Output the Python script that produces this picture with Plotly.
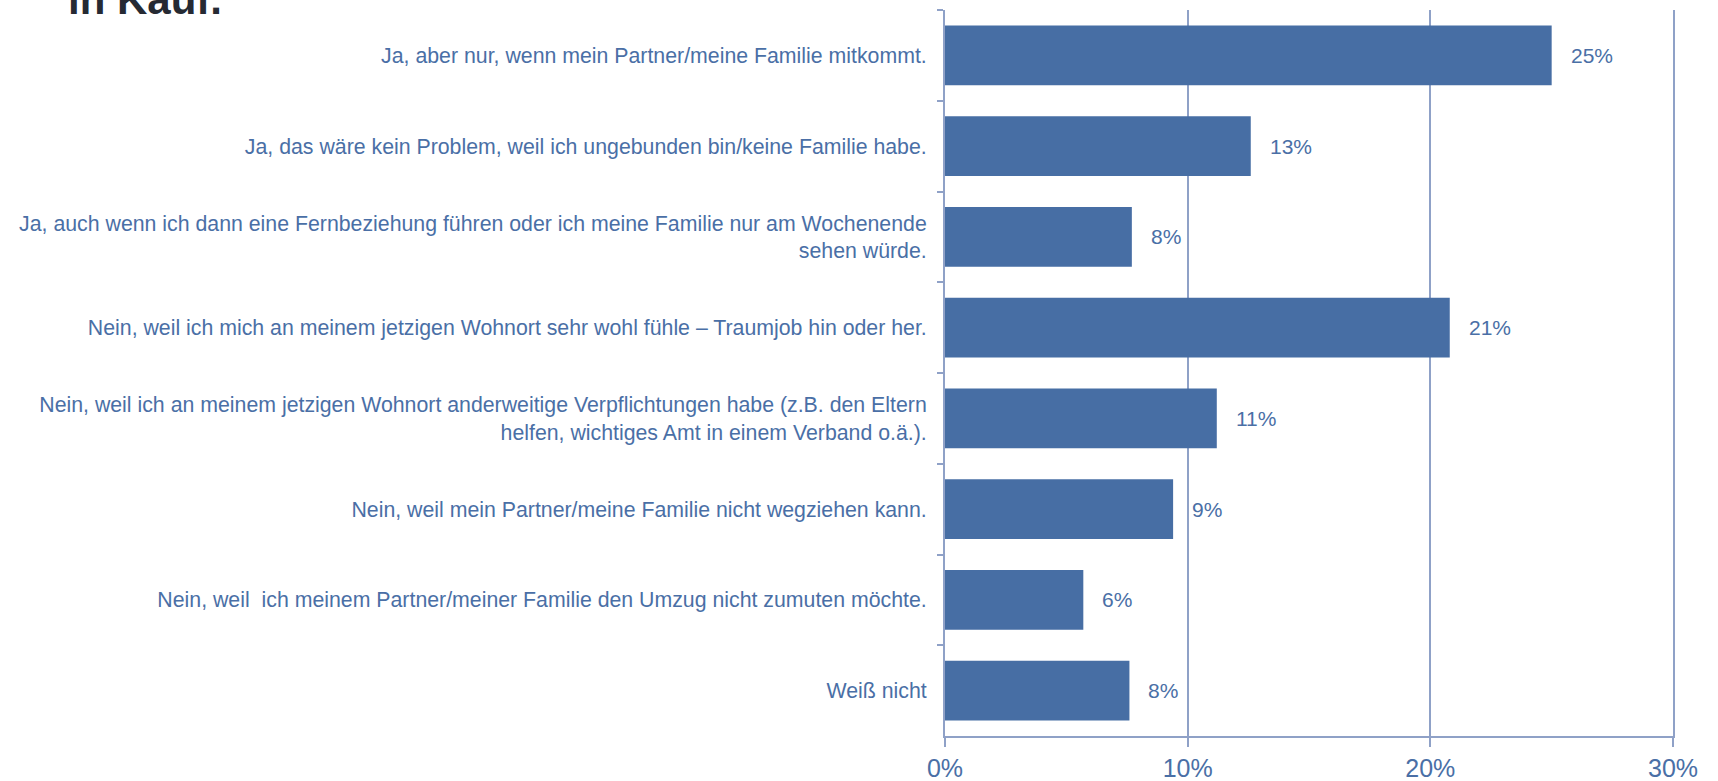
import plotly.graph_objects as go

categories = [
    "Ja, aber nur, wenn mein Partner/meine Familie mitkommt.",
    "Ja, das wäre kein Problem, weil ich ungebunden bin/keine Familie habe.",
    "Ja, auch wenn ich dann eine Fernbeziehung führen oder ich meine Familie nur am Wochenende<br>sehen würde.",
    "Nein, weil ich mich an meinem jetzigen Wohnort sehr wohl fühle – Traumjob hin oder her.",
    "Nein, weil ich an meinem jetzigen Wohnort anderweitige Verpflichtungen habe (z.B. den Eltern<br>helfen, wichtiges Amt in einem Verband o.ä.).",
    "Nein, weil mein Partner/meine Familie nicht wegziehen kann.",
    "Nein, weil \u00a0ich meinem Partner/meiner Familie den Umzug nicht zumuten möchte.",
    "Weiß nicht",
]
values = [25.0, 12.6, 7.7, 20.8, 11.2, 9.4, 5.7, 7.6]
value_labels = ["25%", "13%", "8%", "21%", "11%", "9%", "6%", "8%"]
tick_vals = [0, 10, 20, 30]
tick_text = ["0%", "10%", "20%", "30%"]
title_text = "in Kauf."

BAR = "#476EA4"
TXT = "#4A6FA6"
GRID = "#8FA1C7"
FONT = "Liberation Sans, Arial, sans-serif"

fig = go.Figure()
fig.add_trace(go.Bar(
    x=values, y=categories, orientation="h",
    marker=dict(color=BAR, line=dict(width=0)),
    hoverinfo="skip",
))

for c, v, t in zip(categories, values, value_labels):
    fig.add_annotation(x=v, y=c, xref="x", yref="y", text=t, showarrow=False,
                       xanchor="left", yanchor="middle", xshift=17,
                       font=dict(family=FONT, size=21, color=TXT))

fig.add_annotation(x=-1.207, y=1.0141, xref="paper", yref="paper", text="<b>" + title_text + "</b>",
                   showarrow=False, xanchor="left", yanchor="middle",
                   font=dict(family=FONT, size=42, color="#262A33"))

fig.update_layout(
    width=1718, height=781,
    margin=dict(l=945, r=44.5, t=10, b=45.3),
    paper_bgcolor="white", plot_bgcolor="white",
    bargap=0.34,
    showlegend=False,
    font=dict(family=FONT, color=TXT),
)
fig.update_xaxes(
    range=[0, 30], tickvals=tick_vals, ticktext=tick_text,
    showgrid=True, gridcolor=GRID, gridwidth=1.5,
    showline=True, linecolor=GRID, linewidth=2,
    ticks="outside", ticklen=9, tickcolor=GRID, tickwidth=2,
    zeroline=False, automargin=False,
    tickfont=dict(family=FONT, size=25, color=TXT),
)
fig.update_yaxes(
    autorange="reversed", type="category",
    showline=True, linecolor=GRID, linewidth=2, mirror=True,
    ticks="outside", ticklen=6, tickcolor=GRID, tickwidth=2,
    tickson="boundaries", showgrid=False, automargin=False,
    ticklabelstandoff=12,
    tickfont=dict(family=FONT, size=21.3, color=TXT),
)

fig.write_html("out.html", config={"displayModeBar": False},
               post_script="document.body.style.margin='0';document.body.style.overflow='hidden';")
